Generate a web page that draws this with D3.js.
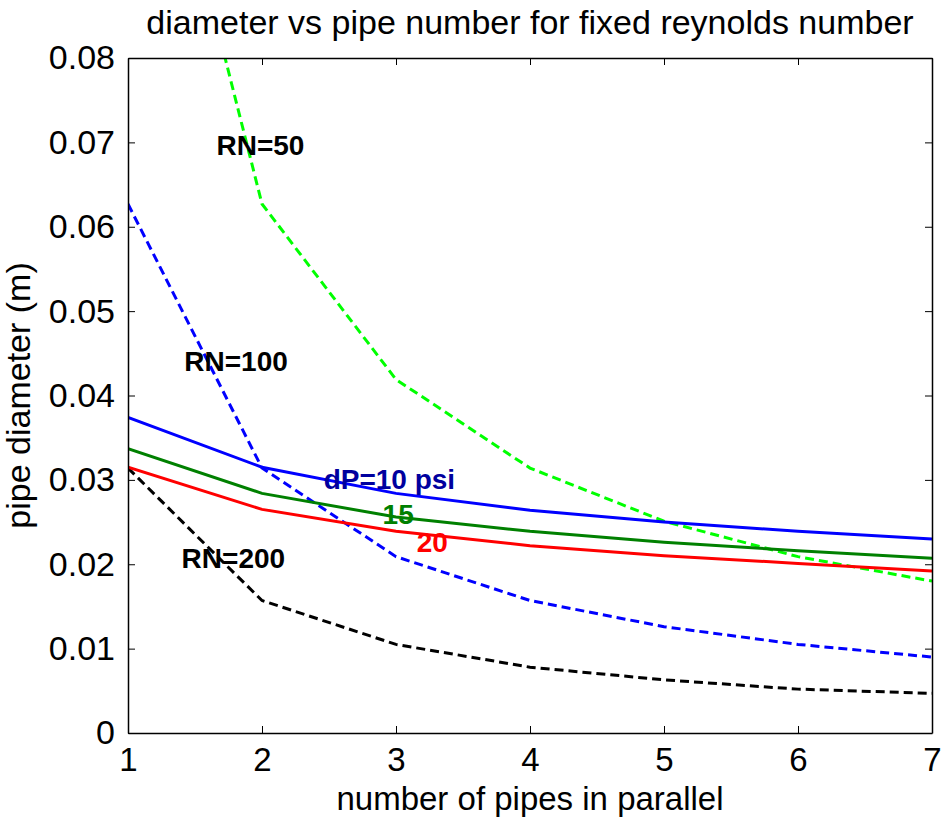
<!DOCTYPE html>
<html>
<head>
<meta charset="utf-8">
<script src="https://cdn.jsdelivr.net/npm/d3@7"></script>
<style>
  body { margin: 0; background: #fff; }
  svg { display: block; font-family: "Liberation Sans", Arial, sans-serif; }
</style>
</head>
<body>
<script>
// number of pipes in parallel
const pipes = [1, 2, 3, 4, 5, 6, 7];

// pipe diameter (m)
const dp10 = [0.0374, 0.0315, 0.0284, 0.0264, 0.0250, 0.0239, 0.0230];
const dp15 = [0.0337, 0.0284, 0.0256, 0.0239, 0.0226, 0.0216, 0.0207];
const dp20 = [0.0315, 0.0265, 0.0239, 0.0222, 0.0210, 0.0201, 0.0192];
const rn50 = [0.1255, 0.0627, 0.0419, 0.0314, 0.0251, 0.0209, 0.0180];
const rn100 = [0.0627, 0.0314, 0.0209, 0.0157, 0.0126, 0.0105, 0.0090];
const rn200 = [0.0314, 0.0157, 0.0105, 0.0078, 0.0063, 0.0052, 0.0047];

const xTicks = [1, 2, 3, 4, 5, 6, 7];
const yTicks = [0, 0.01, 0.02, 0.03, 0.04, 0.05, 0.06, 0.07, 0.08];

const series = [
  { values: rn50, color: "#00ff00", dash: "9,5" },
  { values: rn100, color: "#0000ff", dash: "9,5" },
  { values: rn200, color: "#000000", dash: "9,5" },
  { values: dp10, color: "#0000ff", dash: null },
  { values: dp15, color: "#008000", dash: null },
  { values: dp20, color: "#ff0000", dash: null }
];

const labels = [
  { text: "RN=50", x: 1.66, y: 0.0685, color: "#000000" },
  { text: "RN=100", x: 1.42, y: 0.0429, color: "#000000" },
  { text: "RN=200", x: 1.40, y: 0.0196, color: "#000000" },
  { text: "dP=10 psi", x: 2.46, y: 0.0289, color: "#00009e" },
  { text: "15", x: 2.90, y: 0.0248, color: "#008000" },
  { text: "20", x: 3.155, y: 0.0215, color: "#ff0000" }
];

var width = 943,
  height = 820,
  margin = { top: 58, right: 11, bottom: 87, left: 128 };

const svg = d3.select("body").append("svg")
  .attr("width", width)
  .attr("height", height);

var x = d3.scaleLinear().domain([1, 7]).range([margin.left, width - margin.right]);
var y = d3.scaleLinear().domain([0, 0.08]).range([height - margin.bottom, margin.top]);

// clip lines to the axes box
svg.append("clipPath").attr("id", "plotclip")
  .append("rect")
  .attr("x", x(1)).attr("y", y(0.08))
  .attr("width", x(7) - x(1)).attr("height", y(0) - y(0.08));

const line = d3.line()
  .x((d, i) => x(pipes[i]))
  .y(d => y(d));

svg.append("g")
  .attr("clip-path", "url(#plotclip)")
  .selectAll("path")
  .data(series)
  .join("path")
  .attr("d", d => line(d.values))
  .attr("fill", "none")
  .attr("stroke", d => d.color)
  .attr("stroke-width", 3)
  .attr("stroke-dasharray", d => d.dash);

// axes, ticks pointing inward, mirrored on top and right
const tickLen = 7;
const fmt = d => d === 0 ? "0" : d3.format(".2f")(d);

svg.append("g")
  .attr("transform", `translate(0,${y(0)})`)
  .call(d3.axisBottom(x).tickValues(xTicks).tickSizeInner(-tickLen).tickSizeOuter(0).tickPadding(15).tickFormat(d3.format("d")))
  .call(g => g.selectAll("text").attr("font-size", 33).attr("fill", "#000").attr("dy", "0.71em"));

svg.append("g")
  .attr("transform", `translate(0,${y(0.08)})`)
  .call(d3.axisTop(x).tickValues(xTicks).tickSizeInner(-tickLen).tickSizeOuter(0).tickFormat(""));

svg.append("g")
  .attr("transform", `translate(${x(1)},0)`)
  .call(d3.axisLeft(y).tickValues(yTicks).tickSizeInner(-tickLen).tickSizeOuter(0).tickPadding(13).tickFormat(fmt))
  .call(g => g.selectAll("text").attr("font-size", 34).attr("fill", "#000"));

svg.append("g")
  .attr("transform", `translate(${x(7)},0)`)
  .call(d3.axisRight(y).tickValues(yTicks).tickSizeInner(-tickLen).tickSizeOuter(0).tickFormat(""));

svg.selectAll(".domain").attr("stroke", "#000").attr("stroke-width", 1.5);
svg.selectAll(".tick line").attr("stroke", "#000");
svg.selectAll(".tick text").attr("font-family", "Liberation Sans, Arial, sans-serif");

// in-plot annotations
svg.append("g")
  .selectAll("text")
  .data(labels)
  .join("text")
  .attr("x", d => x(d.x))
  .attr("y", d => y(d.y))
  .attr("font-size", 28)
  .attr("font-weight", "bold")
  .attr("fill", d => d.color)
  .text(d => d.text);

// title and axis labels
svg.append("text")
  .attr("x", (x(1) + x(7)) / 2)
  .attr("y", 34)
  .attr("text-anchor", "middle")
  .attr("font-size", 34)
  .text("diameter vs pipe number for fixed reynolds number");

svg.append("text")
  .attr("x", (x(1) + x(7)) / 2)
  .attr("y", 810)
  .attr("text-anchor", "middle")
  .attr("font-size", 33)
  .text("number of pipes in parallel");

svg.append("text")
  .attr("transform", `translate(30,${(y(0) + y(0.08)) / 2}) rotate(-90)`)
  .attr("text-anchor", "middle")
  .attr("font-size", 34)
  .text("pipe diameter (m)");
</script>
</body>
</html>
